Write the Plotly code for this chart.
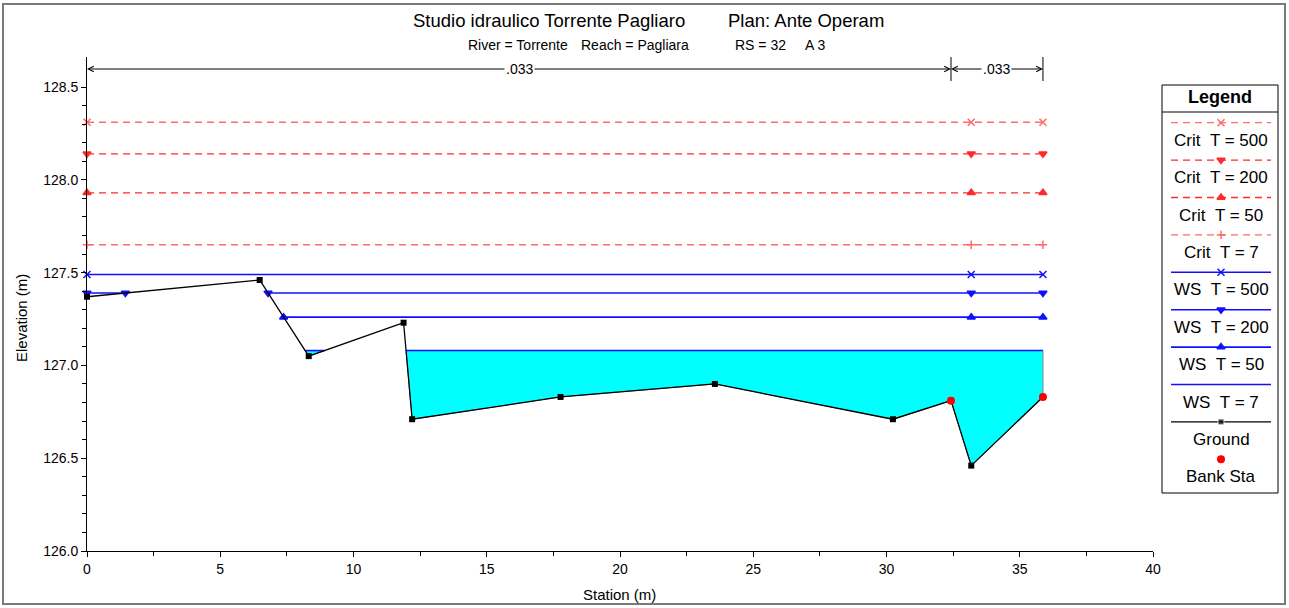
import numpy as np
import plotly.graph_objects as go

# ---------------- data ----------------
ground_sta = [0.0, 6.48, 8.32, 11.88, 12.20, 17.77, 23.56, 30.24, 32.42, 33.18, 35.87]
ground_elev = [127.37, 127.46, 127.05, 127.23, 126.71, 126.83, 126.90, 126.71, 126.81, 126.46, 126.83]
bank_sta = [32.42, 35.87]
bank_elev = [126.81, 126.83]
profiles = ["T = 500", "T = 200", "T = 50", "T = 7"]
crit_elev = [128.31, 128.14, 127.93, 127.65]
ws_elev = [127.49, 127.39, 127.26, 127.08]
n_values = [".033", ".033"]
n_breaks = [0.0, 32.42, 35.87]
x_ticks = [0, 5, 10, 15, 20, 25, 30, 35, 40]
y_ticks = [126.0, 126.5, 127.0, 127.5, 128.0, 128.5]

# ---------------- styles ----------------
W, H = 1289, 608
FONT = "Liberation Sans, Arial, sans-serif"
crit_colors = ["#ff6a6a", "#ff2a2a", "#ff2a2a", "#ff6a6a"]
crit_symbols = ["x-thin", "triangle-down", "triangle-up", "cross-thin"]
ws_color = "#1010ff"
ws_symbols = ["x-thin", "triangle-down", "triangle-up", None]


def px_x(p):
    return p / W


def px_y(p):
    return 1 - p / H


def wet_runs(gx, gy, ws):
    pts = []
    for i in range(len(gx)):
        if i > 0:
            x0, y0, x1, y1 = gx[i - 1], gy[i - 1], gx[i], gy[i]
            if (y0 - ws) * (y1 - ws) < 0:
                xi = x0 + (ws - y0) * (x1 - x0) / (y1 - y0)
                pts.append((xi, ws))
        pts.append((gx[i], gy[i]))
    runs, cur = [], []
    for p in pts:
        if p[1] <= ws + 1e-9:
            cur.append(p)
        else:
            if len(cur) > 1:
                runs.append(cur)
            cur = []
    if len(cur) > 1:
        runs.append(cur)
    return runs


thalweg = ground_sta[int(np.argmin(ground_elev))]
fig = go.Figure()

# water fill (lowest profile)
runs7 = wet_runs(ground_sta, ground_elev, ws_elev[3])
fx, fy = [], []
for r in runs7:
    fx += [p[0] for p in r] + [r[-1][0], r[0][0], r[0][0], None]
    fy += [p[1] for p in r] + [ws_elev[3], ws_elev[3], r[0][1], None]
fig.add_trace(go.Scatter(x=fx, y=fy, mode="lines", fill="toself", fillcolor="#00ffff",
                         line=dict(color="#808080", width=1), hoverinfo="skip"))

# critical lines
for i, name in enumerate(profiles):
    fig.add_trace(go.Scatter(x=[ground_sta[0], ground_sta[-1]], y=[crit_elev[i]] * 2, mode="lines",
                             line=dict(color=crit_colors[i], width=1.3, dash="7px,5px"),
                             name="Crit " + name))
    fig.add_trace(go.Scatter(x=[ground_sta[0], thalweg, ground_sta[-1]], y=[crit_elev[i]] * 3,
                             mode="markers", cliponaxis=False,
                             marker=dict(symbol=crit_symbols[i], size=7 if i != 3 else 6,
                                         color=crit_colors[i],
                                         line=dict(color=crit_colors[i], width=1.5))))

# water surface lines
for i, name in enumerate(profiles):
    runs = wet_runs(ground_sta, ground_elev, ws_elev[i])
    lx, ly, mx = [], [], []
    for r in runs:
        lx += [r[0][0], r[-1][0], None]
        ly += [ws_elev[i], ws_elev[i], None]
        mx += [r[0][0], r[-1][0]]
    fig.add_trace(go.Scatter(x=lx, y=ly, mode="lines", line=dict(color=ws_color, width=1.6),
                             name="WS " + name))
    if ws_symbols[i]:
        mx.append(thalweg)
        fig.add_trace(go.Scatter(x=mx, y=[ws_elev[i]] * len(mx), mode="markers", cliponaxis=False,
                                 marker=dict(symbol=ws_symbols[i], size=7, color=ws_color,
                                             line=dict(color=ws_color, width=1.5))))

# ground
fig.add_trace(go.Scatter(x=ground_sta, y=ground_elev, mode="lines+markers", cliponaxis=False,
                         line=dict(color="black", width=1.3),
                         marker=dict(symbol="square", size=6, color="black"), name="Ground"))
# bank stations
fig.add_trace(go.Scatter(x=bank_sta, y=bank_elev, mode="markers", cliponaxis=False,
                         marker=dict(symbol="circle", size=8, color="#ff0000"), name="Bank Sta"))

# ---------------- custom legend (on helper axes, pixel units) ----------------
leg_names = ["Crit\u00a0\u00a0" + p for p in profiles] + ["WS\u00a0\u00a0" + p for p in profiles] + ["Ground", "Bank Sta"]
lx0, lx1, lxc = 1171, 1271, 1221
row0, step = 122.7, 37.4
annotations = []
for k, nm in enumerate(leg_names):
    yl = row0 + k * step
    if k < 4:
        c = crit_colors[k]
        fig.add_trace(go.Scatter(x=[lx0, lx1], y=[yl, yl], xaxis="x2", yaxis="y2", mode="lines",
                                 line=dict(color=c, width=1.3, dash="7px,5px")))
        fig.add_trace(go.Scatter(x=[lxc], y=[yl], xaxis="x2", yaxis="y2", mode="markers",
                                 marker=dict(symbol=crit_symbols[k], size=7 if k != 3 else 6, color=c,
                                             line=dict(color=c, width=1.5))))
    elif k < 8:
        fig.add_trace(go.Scatter(x=[lx0, lx1], y=[yl, yl], xaxis="x2", yaxis="y2", mode="lines",
                                 line=dict(color=ws_color, width=1.6)))
        if ws_symbols[k - 4]:
            fig.add_trace(go.Scatter(x=[lxc], y=[yl], xaxis="x2", yaxis="y2", mode="markers",
                                     marker=dict(symbol=ws_symbols[k - 4], size=7, color=ws_color,
                                                 line=dict(color=ws_color, width=1.5))))
    elif k == 8:
        fig.add_trace(go.Scatter(x=[lx0, lxc, lx1], y=[yl] * 3, xaxis="x2", yaxis="y2",
                                 mode="lines+markers", line=dict(color="black", width=1.3),
                                 marker=dict(symbol="square", size=[0, 6, 0], color="black")))
    else:
        fig.add_trace(go.Scatter(x=[lxc], y=[yl], xaxis="x2", yaxis="y2", mode="markers",
                                 marker=dict(symbol="circle", size=8, color="#ff0000")))
    annotations.append(dict(x=px_x(lxc), y=px_y(yl + 17.5), xref="paper", yref="paper",
                            text=nm, showarrow=False, xanchor="center", yanchor="middle",
                            font=dict(family=FONT, size=17, color="black")))

annotations.append(dict(x=px_x(1220), y=px_y(97), xref="paper", yref="paper", text="<b>Legend</b>",
                        showarrow=False, xanchor="center", yanchor="middle",
                        font=dict(family=FONT, size=18, color="black")))

# ---------------- titles ----------------
annotations += [
    dict(x=px_x(411), y=px_y(21), text="Studio idraulico Torrente Pagliaro", xanchor="left"),
    dict(x=px_x(726), y=px_y(21), text="Plan: Ante Operam", xanchor="left"),
]
for a in annotations[-2:]:
    a.update(xref="paper", yref="paper", showarrow=False, yanchor="middle",
             font=dict(family=FONT, size=18.5, color="black"))
sub = [(466, "River = Torrente"), (579, "Reach = Pagliara"), (733, "RS = 32"), (803, "A 3")]
for xp, t in sub:
    annotations.append(dict(x=px_x(xp), y=px_y(45), text=t, xref="paper", yref="paper",
                            showarrow=False, xanchor="left", yanchor="middle",
                            font=dict(family=FONT, size=14, color="black")))

# axis titles
annotations.append(dict(x=px_x(21), y=px_y(318), xref="paper", yref="paper", text="Elevation (m)",
                        textangle=-90, showarrow=False, xanchor="center", yanchor="middle",
                        font=dict(family=FONT, size=15, color="black")))
annotations.append(dict(x=px_x(619), y=px_y(594), xref="paper", yref="paper", text="Station (m)",
                        showarrow=False, xanchor="center", yanchor="middle",
                        font=dict(family=FONT, size=15, color="black")))

# Manning's n arrows
ny = px_y(69)
shapes = []
for i, nv in enumerate(n_values):
    a, b = n_breaks[i], n_breaks[i + 1]
    mid = (a + b) / 2
    for end in (a, b):
        annotations.append(dict(x=end, y=ny, xref="x", yref="paper", ax=mid, ay=0, axref="x",
                                ayref="pixel", text="", showarrow=True, arrowhead=5, arrowsize=1,
                                arrowwidth=1.1, arrowcolor="black", standoff=0, startstandoff=0))
    annotations.append(dict(x=mid, y=ny, xref="x", yref="paper", text=nv, showarrow=False,
                            bgcolor="white", borderpad=1, xanchor="center", yanchor="middle",
                            font=dict(family=FONT, size=14, color="black")))
for bx in n_breaks[1:]:
    shapes.append(dict(type="line", xref="x", yref="paper", x0=bx, x1=bx, y0=px_y(81), y1=px_y(57),
                       line=dict(color="black", width=1)))

# legend box + frame
shapes.append(dict(type="rect", xref="paper", yref="paper", x0=px_x(1162), x1=px_x(1278),
                   y0=px_y(493), y1=px_y(85), line=dict(color="black", width=1)))
shapes.append(dict(type="line", xref="paper", yref="paper", x0=px_x(1162), x1=px_x(1278),
                   y0=px_y(112), y1=px_y(112), line=dict(color="black", width=1)))
shapes.append(dict(type="rect", xref="paper", yref="paper", x0=px_x(3), x1=px_x(1285),
                   y0=px_y(604), y1=px_y(4), line=dict(color="#7a7a7a", width=2)))

y_top = 128.5 + (87 - 57) / ((551 - 87) / 2.5)
fig.update_layout(
    template="none",
    width=W, height=H, margin=dict(l=0, r=0, t=0, b=0, pad=0), autosize=False,
    paper_bgcolor="white", plot_bgcolor="white", showlegend=False,
    font=dict(family=FONT, size=14, color="black"),
    xaxis=dict(domain=[px_x(87), px_x(1153)], range=[0, 40], showline=True, linecolor="black",
               linewidth=1, ticks="outside", ticklen=5, tickcolor="black", tickvals=x_ticks,
               showgrid=False, zeroline=False, tickfont=dict(family=FONT, size=14), anchor="y",
               automargin=False,
               minor=dict(tickvals=list(np.arange(2.5, 40, 5.0)), ticks="outside", ticklen=4,
                          tickcolor="black", showgrid=False)),
    yaxis=dict(domain=[px_y(551), px_y(57)], range=[126.0, y_top], showline=True, linecolor="black",
               linewidth=1, ticks="outside", ticklen=5, tickcolor="black", tickvals=y_ticks,
               ticktext=[f"{v:.1f}" for v in y_ticks], showgrid=False, zeroline=False,
               tickfont=dict(family=FONT, size=14), anchor="x", automargin=False,
               minor=dict(tickvals=[round(v, 1) for v in np.arange(126.0, 128.51, 0.1)],
                          ticks="outside", ticklen=4, tickcolor="black", showgrid=False)),
    xaxis2=dict(domain=[px_x(1162), px_x(1278)], range=[1162, 1278], visible=False, anchor="y2",
                automargin=False),
    yaxis2=dict(domain=[px_y(493), px_y(85)], range=[493, 85], visible=False, anchor="x2",
                automargin=False),
    annotations=annotations, shapes=shapes,
)

fig.write_html("out.html", config={"displayModeBar": False},
               post_script="document.body.style.margin='0';document.body.style.overflow='hidden';")
